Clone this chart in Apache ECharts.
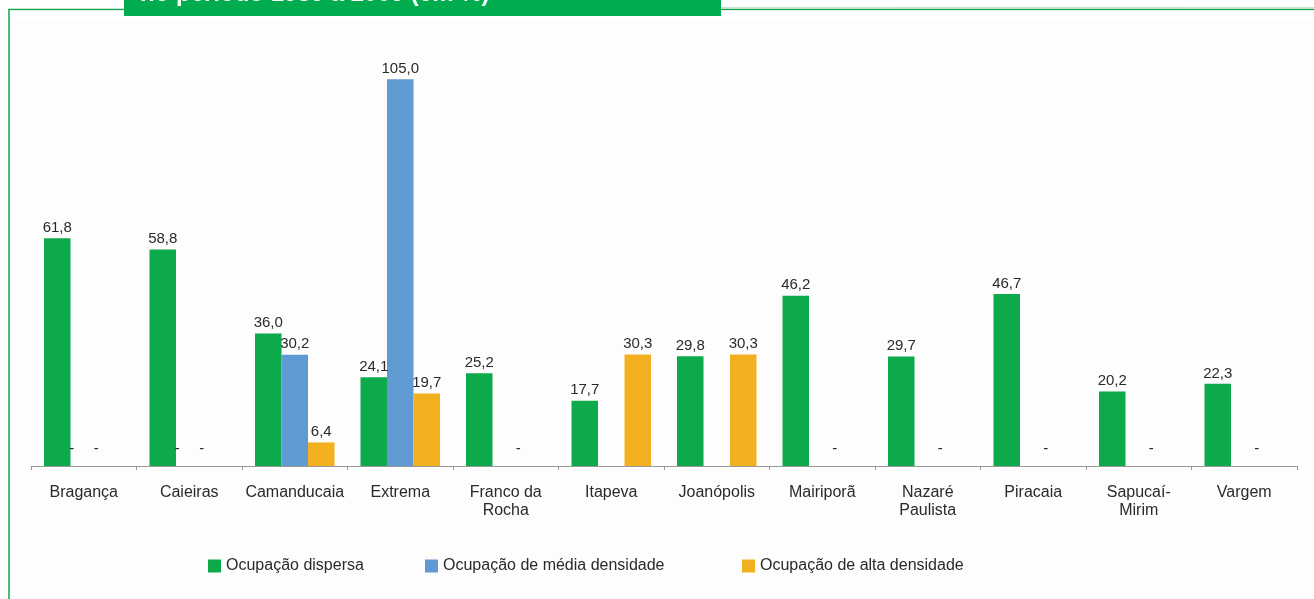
<!DOCTYPE html>
<html>
<head>
<meta charset="utf-8">
<script src="https://cdn.jsdelivr.net/npm/echarts@6/dist/echarts.min.js"></script>
<style>
  html, body { margin: 0; padding: 0; background: #ffffff; }
  #chart { width: 1314px; height: 599px; }
</style>
</head>
<body>
<div id="chart"></div>
<script>
const categories = ['Bragança', 'Caieiras', 'Camanducaia', 'Extrema', 'Franco da\nRocha', 'Itapeva', 'Joanópolis', 'Mairiporã', 'Nazaré\nPaulista', 'Piracaia', 'Sapucaí-\nMirim', 'Vargem'];
// 0 = shown as "-" in the source, null = no mark/label
const dispersa = [61.8, 58.8, 36.0, 24.1, 25.2, 17.7, 29.8, 46.2, 29.7, 46.7, 20.2, 22.3];
const mediaDensidade = [0, 0, 30.2, 105.0, null, null, null, null, null, null, null, null];
const altaDensidade = [0, 0, 6.4, 19.7, 0, 30.3, 30.3, 0, 0, 0, 0, 0];
const seriesNames = ['Ocupação dispersa', 'Ocupação de média densidade', 'Ocupação de alta densidade'];
const headerText = 'no período 1989 a 2009 (em %)';

const colors = ['#0DAA4C', '#5F9AD3', '#F2B020'];
const fmt = v => (v === 0 ? '-' : v.toFixed(1).replace('.', ','));

function toData(arr, dashOffsetX) {
  return arr.map(v => {
    if (v === 0) {
      return { value: 0, label: { offset: [dashOffsetX, -7] } };
    }
    return v;
  });
}

const baseLabel = {
  show: true,
  position: 'top',
  distance: 3,
  fontSize: 15,
  color: '#2a2a2a',
  fontFamily: 'Liberation Sans, Arial, sans-serif',
  formatter: p => (p.value == null ? '' : fmt(p.value))
};

const chart = echarts.init(document.getElementById('chart'), null, { renderer: 'canvas' });

const legendCommon = {
  orient: 'horizontal',
  top: 553,
  itemWidth: 13,
  itemHeight: 13,
  icon: 'rect',
  textStyle: { fontSize: 16, color: '#2a2a2a', fontFamily: 'Liberation Sans, Arial, sans-serif' },
  selectedMode: false
};

chart.setOption({
  animation: false,
  backgroundColor: '#ffffff',
  graphic: [
    { type: 'rect', silent: true, z: 0, shape: { x: 9, y: 9.5, width: 1400, height: 700 },
      style: { fill: '#fdfdfd', stroke: '#16A34E', lineWidth: 1.5 } },
    { type: 'rect', silent: true, z: 0, shape: { x: 10, y: 10.5, width: 1400, height: 9 },
      style: { fill: '#ffffff' } },
    { type: 'line', silent: true, z: 0, shape: { x1: 720, y1: 7.8, x2: 1314, y2: 7.8 },
      style: { stroke: '#A8DDB8', lineWidth: 1 } },
    { type: 'rect', silent: true, z: 1, shape: { x: 124, y: 0, width: 597, height: 16 },
      style: { fill: '#00AC4E' } },
    { type: 'text', silent: true, z: 2, x: 140, y: -6,
      style: { text: headerText, fill: '#ffffff', fontSize: 24, fontWeight: 'bold',
               fontFamily: 'Liberation Sans, Arial, sans-serif', verticalAlign: 'middle', align: 'left' } }
  ],
  grid: { left: 31, right: 17, top: 24, bottom: 133, containLabel: false },
  legend: [
    Object.assign({}, legendCommon, { left: 203, data: [seriesNames[0]] }),
    Object.assign({}, legendCommon, { left: 420, data: [seriesNames[1]] }),
    Object.assign({}, legendCommon, { left: 737, data: [seriesNames[2]] })
  ],
  xAxis: {
    type: 'category',
    data: categories,
    axisLine: { lineStyle: { color: '#9a9a9a', width: 1 } },
    axisTick: { show: true, length: 4, lineStyle: { color: '#9a9a9a' } },
    axisLabel: {
      interval: 0,
      margin: 18,
      fontSize: 16,
      lineHeight: 18,
      color: '#2a2a2a',
      fontFamily: 'Liberation Sans, Arial, sans-serif'
    },
    splitLine: { show: false }
  },
  yAxis: {
    type: 'value',
    min: 0,
    max: 120,
    show: false,
    splitLine: { show: false }
  },
  series: [
    { name: seriesNames[0], type: 'bar', data: dispersa, barWidth: 26.5, barGap: '0%',
      itemStyle: { color: colors[0] }, label: baseLabel },
    { name: seriesNames[1], type: 'bar', data: toData(mediaDensidade, -12), barWidth: 26.5, barGap: '0%',
      itemStyle: { color: colors[1] }, label: baseLabel },
    { name: seriesNames[2], type: 'bar', data: toData(altaDensidade, -14), barWidth: 26.5, barGap: '0%',
      itemStyle: { color: colors[2] }, label: baseLabel }
  ]
});
</script>
</body>
</html>
